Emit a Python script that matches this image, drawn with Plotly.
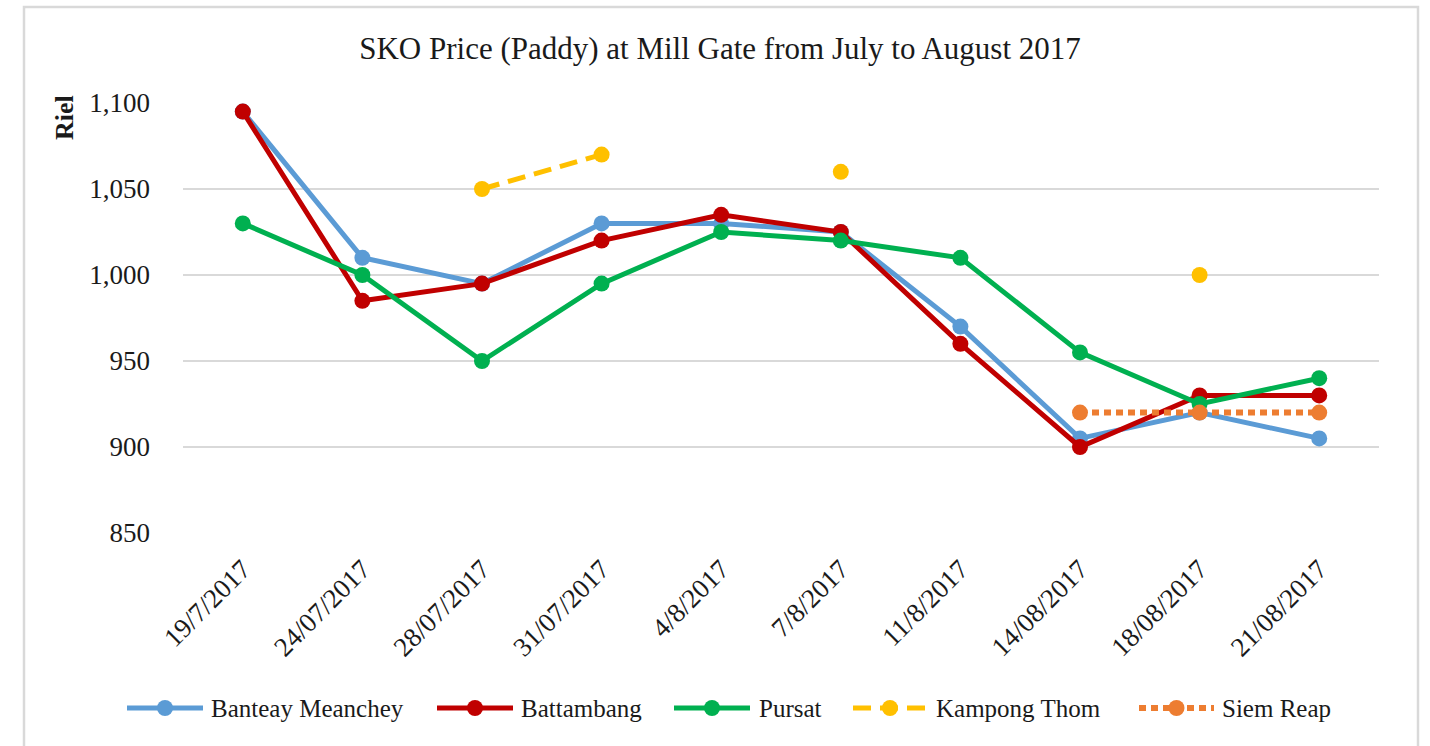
import plotly.graph_objects as go

dates = ["19/7/2017", "24/07/2017", "28/07/2017", "31/07/2017", "4/8/2017",
         "7/8/2017", "11/8/2017", "14/08/2017", "18/08/2017", "21/08/2017"]
banteay_meanchey = [1095, 1010, 995, 1030, 1030, 1025, 970, 905, 920, 905]
battambang = [1095, 985, 995, 1020, 1035, 1025, 960, 900, 930, 930]
pursat = [1030, 1000, 950, 995, 1025, 1020, 1010, 955, 925, 940]
kampong_thom = [None, None, 1050, 1070, None, 1060, None, None, 1000, None]
siem_reap = [None, None, None, None, None, None, None, 920, 920, 920]
y_ticks = [850, 900, 950, 1000, 1050, 1100]

FONT = "'Liberation Serif', 'Times New Roman', 'DejaVu Serif', serif"
TXT = "#1a1a1a"
W, H = 1430, 746
L, R, T, B = 183, 51, 103, 213
PW, PH = W - L - R, H - T - B

def px(x):
    return (x - L) / PW

def py(y):
    return (H - B - y) / PH

series = [
    ("Banteay Meanchey", banteay_meanchey, "#5B9BD5", "solid", 5),
    ("Battambang", battambang, "#C00000", "solid", 5),
    ("Pursat", pursat, "#00B050", "solid", 5),
    ("Kampong Thom", kampong_thom, "#FFC000", "18px,9px", 5),
    ("Siem Reap", siem_reap, "#ED7D31", "7px,5px", 6),
]

fig = go.Figure()
for name, vals, color, dash, lw in series:
    fig.add_trace(go.Scatter(
        x=dates, y=vals, name=name, mode="lines+markers",
        line=dict(color=color, width=lw, dash=dash),
        marker=dict(color=color, size=16),
        connectgaps=False, showlegend=False,
    ))

fig.update_layout(
    width=W, height=H,
    paper_bgcolor="white", plot_bgcolor="white",
    margin=dict(l=L, r=R, t=T, b=B, autoexpand=False),
    font=dict(family=FONT, size=26, color=TXT),
    title=dict(text="SKO Price (Paddy) at Mill Gate from July to August 2017",
               x=720 / W, xanchor="center", xref="container",
               y=1 - 48 / H, yref="container", yanchor="middle",
               font=dict(family=FONT, size=31, color=TXT)),
    showlegend=False,
    xaxis=dict(type="category", range=[-0.5, len(dates) - 0.5],
               tickangle=-45, showgrid=False, zeroline=False,
               showline=False, ticks="", automargin=False, ticklabelstandoff=14,
               tickfont=dict(family=FONT, size=27, color=TXT)),
    yaxis=dict(range=[850, 1100], tickvals=y_ticks, tickformat=",",
               showgrid=True, gridcolor="#d9d9d9", gridwidth=1.5, zeroline=False,
               showline=False, ticks="", automargin=False, ticklabelstandoff=32,
               tickfont=dict(family=FONT, size=27, color=TXT)),
)

# Axis title
fig.add_annotation(text="<b>Riel</b>", xref="paper", yref="paper", x=px(65), y=py(118),
                   textangle=-90, showarrow=False, xanchor="center", yanchor="middle",
                   font=dict(family=FONT, size=26, color=TXT))

# Chart frame
fig.add_shape(type="rect", xref="paper", yref="paper",
              x0=px(24), x1=px(1418), y0=py(770), y1=py(7),
              line=dict(color="#d9d9d9", width=2.5), layer="below")

# Custom legend (glyph positions in pixels)
legend_pos = [(127, 203, 209), (437, 513, 519), (674, 750, 757),
              (853, 927, 934), (1139, 1214, 1220)]
LY = 708
r = 8
for (name, vals, color, dash, lw), (x0, x1, tx) in zip(series, legend_pos):
    fig.add_shape(type="line", xref="paper", yref="paper",
                  x0=px(x0), x1=px(x1), y0=py(LY), y1=py(LY),
                  line=dict(color=color, width=lw, dash=dash))
    cx = (x0 + x1) / 2
    fig.add_shape(type="circle", xref="paper", yref="paper",
                  x0=px(cx - r), x1=px(cx + r), y0=py(LY + r), y1=py(LY - r),
                  fillcolor=color, line=dict(color=color, width=0))
    fig.add_annotation(text=name, xref="paper", yref="paper", x=px(tx), y=py(LY),
                       xanchor="left", yanchor="middle", showarrow=False,
                       font=dict(family=FONT, size=25, color=TXT))

fig.write_html("out.html", config={"displayModeBar": False},
               post_script="document.body.style.margin='0';document.body.style.overflow='hidden';")
